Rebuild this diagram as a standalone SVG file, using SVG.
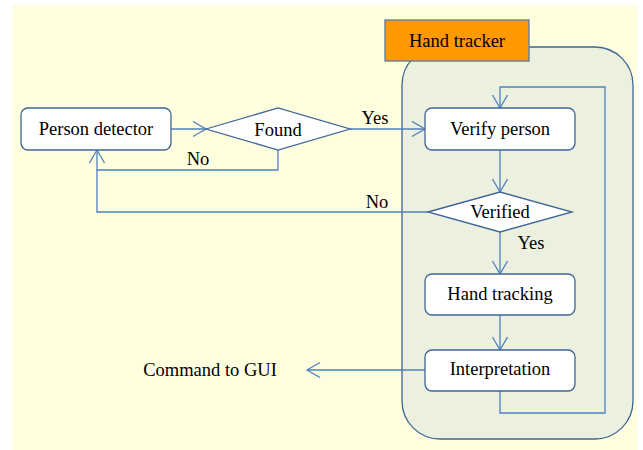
<svg xmlns="http://www.w3.org/2000/svg" width="643" height="450" viewBox="0 0 643 450">
  <style>
    .box { fill: #ffffff; stroke: #3f6696; stroke-width: 1.3; }
    .conn { fill: none; stroke: #4f81bd; stroke-width: 1.3; }
    .lbl { font-family: "Liberation Serif", "Times New Roman", serif; font-size: 18.5px; fill: #000000; text-anchor: middle; }
  </style>
  <defs>
    <marker id="open-arrow" markerUnits="userSpaceOnUse" markerWidth="16" markerHeight="18" refX="14" refY="8" orient="auto">
      <path d="M1,0.5 L14,8 L1,15.5" fill="none" stroke="#4f81bd" stroke-width="1.3"/>
    </marker>
  </defs>

  <!-- page background -->
  <rect x="12" y="5" width="625" height="445" fill="#ffffe0"/>

  <!-- hand tracker container -->
  <g id="hand-tracker">
    <rect x="402" y="47" width="231" height="392" rx="38" ry="38" fill="#ebf1de" stroke="#3f6696" stroke-width="1.3"/>
    <rect x="385" y="20" width="144" height="41" fill="#ff9900" stroke="#5a7aa0" stroke-width="1.3"/>
    <text class="lbl" x="457" y="47">Hand tracker</text>
  </g>

  <!-- connectors -->
  <g id="connectors">
    <path class="conn" d="M171,129 H206" marker-end="url(#open-arrow)"/>
    <path class="conn" d="M350,129 H425" marker-end="url(#open-arrow)"/>
    <path class="conn" d="M278,150 V170 H97 V150" marker-end="url(#open-arrow)"/>
    <path class="conn" d="M428,212 H97 V170"/>
    <path class="conn" d="M500,150 V192" marker-end="url(#open-arrow)"/>
    <path class="conn" d="M500,232 V274" marker-end="url(#open-arrow)"/>
    <path class="conn" d="M500,315 V350" marker-end="url(#open-arrow)"/>
    <path class="conn" d="M425,370 H307" marker-end="url(#open-arrow)"/>
    <path class="conn" d="M500,391 V413 H605 V87 H500 V108" marker-end="url(#open-arrow)"/>
    <text class="lbl" x="375" y="124">Yes</text>
    <text class="lbl" x="198" y="165">No</text>
    <text class="lbl" x="377" y="208">No</text>
    <text class="lbl" x="531" y="249">Yes</text>
  </g>

  <g id="person-detector">
    <rect class="box" x="21" y="108" width="150" height="42" rx="7" ry="7"/>
    <text class="lbl" x="96" y="135">Person detector</text>
  </g>

  <g id="found">
    <polygon class="box" points="206,129 278,108 350,129 278,150"/>
    <text class="lbl" x="278" y="136">Found</text>
  </g>

  <g id="verify-person">
    <rect class="box" x="425" y="108" width="150" height="42" rx="7" ry="7"/>
    <text class="lbl" x="500" y="135">Verify person</text>
  </g>

  <g id="verified">
    <polygon class="box" points="428,212 500,192 572,212 500,232"/>
    <text class="lbl" x="500" y="218">Verified</text>
  </g>

  <g id="hand-tracking">
    <rect class="box" x="425" y="274" width="150" height="41" rx="7" ry="7"/>
    <text class="lbl" x="500" y="300">Hand tracking</text>
  </g>

  <g id="interpretation">
    <rect class="box" x="425" y="350" width="150" height="41" rx="7" ry="7"/>
    <text class="lbl" x="500" y="375">Interpretation</text>
  </g>

  <g id="command-to-gui">
    <text class="lbl" x="210" y="376">Command to GUI</text>
  </g>
</svg>
